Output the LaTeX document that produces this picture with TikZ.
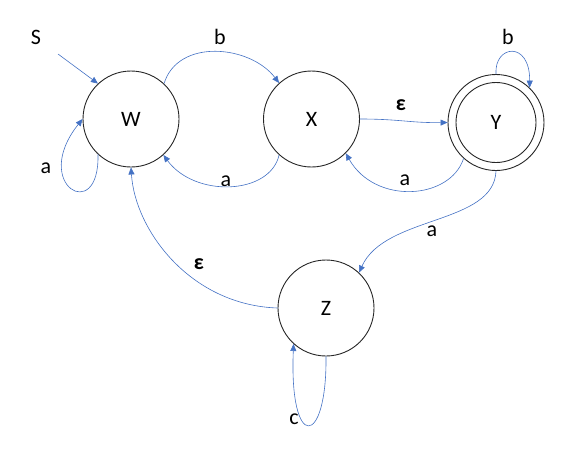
\documentclass[tikz,border=0pt]{standalone}
\usepackage{fontspec}
\setmainfont{Carlito}
\usetikzlibrary{arrows.meta}
\definecolor{edgeblue}{HTML}{4472C4}
\tikzset{
  state/.style={circle, draw=black!85, line width=0.9pt, minimum size=96pt, inner sep=0pt, font=\fontsize{22}{26}\selectfont},
  edge/.style={draw=edgeblue, line width=0.6pt, -{Triangle[length=7pt,width=6pt]}},
  lbl/.style={inner sep=0pt, font=\fontsize{22}{26}\selectfont},
}
\begin{document}
\begin{tikzpicture}[x=1pt,y=-1pt]
\useasboundingbox (0,0) rectangle (580,448);
\node[state] (W) at (131,119) {W};
\node[state] (X) at (311.5,119) {X};
\node[state] (Y) at (496,122.5) {Y};
\node[state] (Z) at (326,308) {Z};
\node[circle, draw=black!85, line width=0.9pt, minimum size=80pt, inner sep=0pt] (Yin) at (Y.center) {};
\coordinate (S0) at (58,54);
% labels
\node[lbl] (lS) at (36,37) {S};
\node[lbl] (lb1) at (220,37) {b};
\node[lbl] (la1) at (46,168) {a};
\node[lbl] (la2) at (226,181) {a};
\node[lbl] (le1) at (401,105) {\textbf{ε}};
\node[lbl] (la3) at (405,180) {a};
\node[lbl] (lb2) at (508,37) {b};
\node[lbl] (la4) at (432,231) {a};
\node[lbl] (le2) at (199,264) {\textbf{ε}};
\node[lbl] (lc) at (294,419) {c};
% edges
\draw[edge] (S0) -- (W.133);
\draw[edge] (W.227) .. controls (100,225) and (30,185) .. (W.180);
\draw[edge] (W.47) .. controls (178,38) and (250,45) .. (X.132);
\draw[edge] (X.228) .. controls (270,195) and (195,198) .. (W.312);
\draw[edge] (X.0) .. controls (400,119) and (410,123) .. (Y.180);
\draw[edge] (Y.228) .. controls (450,200) and (375,205) .. (X.315);
\draw[edge] (Y.90) .. controls (494,45) and (530,40) .. (Y.46);
\draw[edge] (Y.270) .. controls (494,225) and (385,215) .. (Z.47);
\draw[edge] (Z.180) .. controls (190,305) and (135,230) .. (W.270);
\draw[edge] (Z.270) .. controls (327,448) and (289,452) .. (Z.228);
\end{tikzpicture}
\end{document}
